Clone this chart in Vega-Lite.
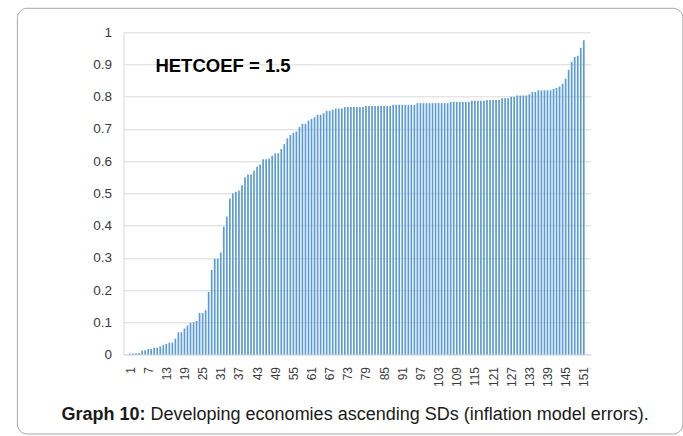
{
  "$schema": "https://vega.github.io/schema/vega-lite/v6.json",
  "width": 466.8,
  "height": 322.2,
  "autosize": {"type": "none"},
  "padding": {"left": 123.5, "top": 32.3, "right": 92.7, "bottom": 81.5},
  "background": "white",
  "config": {
    "view": {"stroke": null},
    "font": "Liberation Sans",
    "axis": {"labelOverlap": false}
  },
  "layer": [
    {
      "data": {
        "values": [
          {"i":1,"v":0.003},{"i":2,"v":0.003},{"i":3,"v":0.004},{"i":4,"v":0.005},{"i":5,"v":0.0125},
          {"i":6,"v":0.013},{"i":7,"v":0.017},{"i":8,"v":0.017},{"i":9,"v":0.021},{"i":10,"v":0.021},
          {"i":11,"v":0.025},{"i":12,"v":0.029},{"i":13,"v":0.033},{"i":14,"v":0.037},{"i":15,"v":0.037},
          {"i":16,"v":0.049},{"i":17,"v":0.069},{"i":18,"v":0.069},{"i":19,"v":0.081},{"i":20,"v":0.09},
          {"i":21,"v":0.098},{"i":22,"v":0.1},{"i":23,"v":0.104},{"i":24,"v":0.129},{"i":25,"v":0.129},
          {"i":26,"v":0.1375},{"i":27,"v":0.194},{"i":28,"v":0.2625},{"i":29,"v":0.297},{"i":30,"v":0.297},
          {"i":31,"v":0.317},{"i":32,"v":0.397},{"i":33,"v":0.428},{"i":34,"v":0.484},{"i":35,"v":0.5},
          {"i":36,"v":0.504},{"i":37,"v":0.508},{"i":38,"v":0.525},{"i":39,"v":0.549},{"i":40,"v":0.559},
          {"i":41,"v":0.559},{"i":42,"v":0.57},{"i":43,"v":0.583},{"i":44,"v":0.59},{"i":45,"v":0.606},
          {"i":46,"v":0.606},{"i":47,"v":0.608},{"i":48,"v":0.617},{"i":49,"v":0.624},{"i":50,"v":0.625},
          {"i":51,"v":0.6375},{"i":52,"v":0.653},{"i":53,"v":0.671},{"i":54,"v":0.681},{"i":55,"v":0.688},
          {"i":56,"v":0.692},{"i":57,"v":0.706},{"i":58,"v":0.716},{"i":59,"v":0.716},{"i":60,"v":0.726},
          {"i":61,"v":0.731},{"i":62,"v":0.736},{"i":63,"v":0.744},{"i":64,"v":0.744},{"i":65,"v":0.749},
          {"i":66,"v":0.756},{"i":67,"v":0.756},{"i":68,"v":0.76},{"i":69,"v":0.763},{"i":70,"v":0.763},
          {"i":71,"v":0.764},{"i":72,"v":0.768},{"i":73,"v":0.768},{"i":74,"v":0.768},{"i":75,"v":0.768},
          {"i":76,"v":0.768},{"i":77,"v":0.768},{"i":78,"v":0.768},{"i":79,"v":0.771},{"i":80,"v":0.771},
          {"i":81,"v":0.771},{"i":82,"v":0.771},{"i":83,"v":0.771},{"i":84,"v":0.771},{"i":85,"v":0.771},
          {"i":86,"v":0.771},{"i":87,"v":0.771},{"i":88,"v":0.775},{"i":89,"v":0.775},{"i":90,"v":0.775},
          {"i":91,"v":0.775},{"i":92,"v":0.775},{"i":93,"v":0.775},{"i":94,"v":0.775},{"i":95,"v":0.775},
          {"i":96,"v":0.78},{"i":97,"v":0.78},{"i":98,"v":0.78},{"i":99,"v":0.78},{"i":100,"v":0.78},
          {"i":101,"v":0.78},{"i":102,"v":0.78},{"i":103,"v":0.78},{"i":104,"v":0.78},{"i":105,"v":0.78},
          {"i":106,"v":0.78},{"i":107,"v":0.784},{"i":108,"v":0.784},{"i":109,"v":0.784},{"i":110,"v":0.784},
          {"i":111,"v":0.784},{"i":112,"v":0.784},{"i":113,"v":0.784},{"i":114,"v":0.7875},{"i":115,"v":0.7875},
          {"i":116,"v":0.7875},{"i":117,"v":0.7875},{"i":118,"v":0.7875},{"i":119,"v":0.79},{"i":120,"v":0.79},
          {"i":121,"v":0.79},{"i":122,"v":0.79},{"i":123,"v":0.79},{"i":124,"v":0.795},{"i":125,"v":0.795},
          {"i":126,"v":0.795},{"i":127,"v":0.8},{"i":128,"v":0.8},{"i":129,"v":0.804},{"i":130,"v":0.804},
          {"i":131,"v":0.804},{"i":132,"v":0.804},{"i":133,"v":0.808},{"i":134,"v":0.815},{"i":135,"v":0.815},
          {"i":136,"v":0.82},{"i":137,"v":0.82},{"i":138,"v":0.82},{"i":139,"v":0.82},{"i":140,"v":0.82},
          {"i":141,"v":0.824},{"i":142,"v":0.827},{"i":143,"v":0.832},{"i":144,"v":0.84},{"i":145,"v":0.856},
          {"i":146,"v":0.884},{"i":147,"v":0.908},{"i":148,"v":0.923},{"i":149,"v":0.927},{"i":150,"v":0.952},
          {"i":151,"v":0.975}
        ]
      },
      "mark": {"type": "bar", "color": "#5b9bd5", "size": 1.7},
      "encoding": {
        "x": {
          "field": "i",
          "type": "quantitative",
          "scale": {"domain": [0.5, 151.5], "nice": false, "zero": false},
          "axis": {
            "title": null,
            "values": [1,7,13,19,25,31,37,43,49,55,61,67,73,79,85,91,97,103,109,115,121,127,133,139,145,151],
            "tickCount": 1000,
            "format": "d",
            "labelAngle": -90,
            "labelFont": "Liberation Sans",
            "labelFontSize": 12,
            "labelColor": "#3a3a3a",
            "labelPadding": 12,
            "labelFlush": false,
            "labelOverlap": false,
            "ticks": false,
            "grid": false,
            "domain": true,
            "domainColor": "#d9d9d9",
            "domainWidth": 1
          }
        },
        "y": {
          "field": "v",
          "type": "quantitative",
          "scale": {"domain": [0, 1], "nice": false},
          "axis": {
            "title": null,
            "values": [0, 0.1, 0.2, 0.3, 0.4, 0.5, 0.6, 0.7, 0.8, 0.9, 1],
            "tickCount": 1000,
            "format": ".1~f",
            "labelFont": "Liberation Sans",
            "labelFontSize": 13.5,
            "labelColor": "#3a3a3a",
            "labelPadding": 12,
            "labelOverlap": false,
            "ticks": false,
            "domain": true,
            "domainColor": "#d9d9d9",
            "grid": true,
            "gridColor": "#d9d9d9",
            "gridWidth": 1
          }
        }
      }
    },
    {
      "data": {"values": [{}]},
      "mark": {"type": "rect", "fillOpacity": 0, "stroke": "#a6a6a6", "strokeWidth": 1, "cornerRadius": 10, "clip": false},
      "encoding": {
        "x": {"datum": -36.22, "type": "quantitative"},
        "x2": {"datum": 183.75},
        "y": {"datum": 1.0745, "type": "quantitative"},
        "y2": {"datum": -0.2467}
      }
    },
    {
      "data": {"values": [{}]},
      "mark": {"type": "text", "text": "HETCOEF = 1.5", "font": "Liberation Sans", "fontWeight": "bold", "fontSize": 18.5, "align": "left", "baseline": "alphabetic", "color": "#000000"},
      "encoding": {
        "x": {"datum": 9.4, "type": "quantitative"},
        "y": {"datum": 0.8777, "type": "quantitative"}
      }
    },
    {
      "data": {"values": [{}]},
      "mark": {"type": "text", "text": "Graph 10:", "font": "Liberation Sans", "fontWeight": "bold", "fontSize": 18, "align": "right", "baseline": "alphabetic", "color": "#1a1a1a", "clip": false},
      "encoding": {
        "x": {"datum": 6.16, "type": "quantitative"},
        "y": {"datum": -0.2033, "type": "quantitative"}
      }
    },
    {
      "data": {"values": [{}]},
      "mark": {"type": "text", "text": "Developing economies ascending SDs (inflation model errors).", "font": "Liberation Sans", "fontSize": 18, "align": "left", "baseline": "alphabetic", "color": "#1a1a1a", "clip": false},
      "encoding": {
        "x": {"datum": 7.78, "type": "quantitative"},
        "y": {"datum": -0.2033, "type": "quantitative"}
      }
    }
  ]
}
